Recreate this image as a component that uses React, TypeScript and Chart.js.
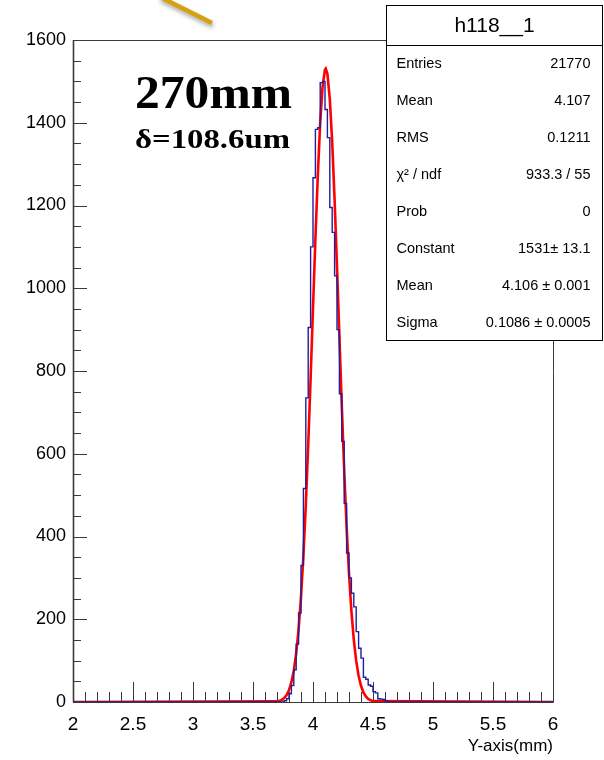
import { useEffect, useRef } from "react";
import { Chart, registerables } from "chart.js";

Chart.register(...registerables);

// Histogram h118__1: bin contents, 0.02 mm bins starting at 3.76 mm
const histLow = 3.76;
const histBinWidth = 0.02;
const histCounts = [
  3, 8, 20, 40, 78, 140, 215, 330, 516, 735, 905, 1100, 1267, 1384, 1388, 1497, 1500,
  1432, 1364, 1195, 1135, 1030, 900, 745, 630, 480, 360, 300, 263, 230, 170, 130, 106,
  60, 55, 41, 38, 25, 22, 8, 7, 6, 3,
];

// Gaussian fit curve, sampled
const fitX = [
  2, 3.7, 3.72, 3.74, 3.76, 3.78, 3.8, 3.82, 3.84, 3.86, 3.88, 3.9, 3.92, 3.94, 3.96, 3.98,
  4.0, 4.02, 4.04, 4.06, 4.08, 4.1, 4.106, 4.12, 4.14, 4.16, 4.18, 4.2, 4.22, 4.24, 4.26,
  4.28, 4.3, 4.32, 4.34, 4.36, 4.38, 4.4, 4.42, 4.44, 4.46, 4.48, 4.5, 6,
];
const fitY = [
  0, 1.4, 2.8, 5.2, 9.6, 16.9, 28.9, 47.8, 76.2, 117.7, 175.6, 253.3, 353.2, 476.0, 620.2,
  781.0, 950.9, 1118.9, 1272.8, 1399.6, 1487.7, 1528.7, 1531, 1518.3, 1457.8, 1353.0,
  1213.9, 1052.7, 882.5, 715.1, 560.2, 424.2, 310.5, 219.7, 150.3, 99.3, 63.5, 39.2, 23.4,
  13.5, 7.5, 4.1, 2.1, 0,
];

// Axis ticks
const xTickValues = [2, 2.5, 3, 3.5, 4, 4.5, 5, 5.5, 6];
const xTickLabels = ["2", "2.5", "3", "3.5", "4", "4.5", "5", "5.5", "6"];
const yTickValues = [0, 200, 400, 600, 800, 1000, 1200, 1400, 1600];
const yTickLabels = ["0", "200", "400", "600", "800", "1000", "1200", "1400", "1600"];

// Statistics box
const statsTitle = "h118__1";
const statsLabels = ["Entries", "Mean", "RMS", "χ² / ndf", "Prob", "Constant", "Mean", "Sigma"];
const statsValues = [
  "21770", "4.107", "0.1211", "933.3 / 55", "0", "1531± 13.1", "4.106 ± 0.001", "0.1086 ± 0.0005",
];

const titleText = "270mm";
const subTitleText = "δ=108.6um";

const SANS = '"Liberation Sans", Arial, Helvetica, sans-serif';
const SERIF = '"Liberation Serif", "Times New Roman", serif';

const rootStylePlugin = {
  id: "rootStyle",
  beforeDatasetsDraw(chart: any) {
    const { ctx, chartArea: a, scales } = chart;
    const xs = scales.x;
    const ys = scales.y;
    ctx.save();
    ctx.strokeStyle = "#3a3a3a";
    ctx.lineWidth = 1;
    ctx.beginPath();
    // frame
    ctx.rect(Math.round(a.left) + 0.5, Math.round(a.top) + 0.5, Math.round(a.right - a.left), Math.round(a.bottom - a.top));
    // x-axis ticks, every 0.1 with longer ones every 0.5
    for (let i = 0; i <= 40; i++) {
      const v = xs.min + i * 0.1;
      const px = Math.round(xs.getPixelForValue(v)) + 0.5;
      const len = i % 5 === 0 ? 20 : 10;
      ctx.moveTo(px, a.bottom);
      ctx.lineTo(px, a.bottom - len);
    }
    // y-axis ticks, every 50 with longer ones every 200
    for (let i = 0; i <= 32; i++) {
      const v = i * 50;
      const py = Math.round(ys.getPixelForValue(v)) + 0.5;
      const len = i % 4 === 0 ? 14 : 8;
      ctx.moveTo(a.left, py);
      ctx.lineTo(a.left + len, py);
    }
    ctx.stroke();
    ctx.lineWidth = 1.6;
    ctx.beginPath();
    ctx.moveTo(Math.round(a.left) + 0.5, a.top);
    ctx.lineTo(Math.round(a.left) + 0.5, a.bottom);
    ctx.stroke();
    ctx.restore();
  },
  afterDraw(chart: any) {
    const { ctx } = chart;
    ctx.save();

    // statistics box
    const bx = 386.5, by = 5.5, bw = 216, bh = 335, head = 40, row = 37;
    ctx.fillStyle = "#ffffff";
    ctx.fillRect(bx, by, bw, bh);
    ctx.strokeStyle = "#000000";
    ctx.lineWidth = 1;
    ctx.strokeRect(bx, by, bw, bh);
    ctx.beginPath();
    ctx.moveTo(bx, by + head);
    ctx.lineTo(bx + bw, by + head);
    ctx.stroke();

    ctx.fillStyle = "#000000";
    ctx.textBaseline = "middle";
    ctx.textAlign = "center";
    ctx.font = `21px ${SANS}`;
    ctx.fillText(statsTitle, bx + bw / 2, by + head / 2 + 1);
    ctx.font = `14.5px ${SANS}`;
    statsLabels.forEach((lab, i) => {
      const cy = by + head + row * i + row / 2;
      ctx.textAlign = "left";
      ctx.fillText(lab, bx + 10, cy);
      ctx.textAlign = "right";
      ctx.fillText(statsValues[i], bx + bw - 12, cy);
    });

    // annotation text
    const drawStretched = (text: string, font: string, x: number, y: number, width: number) => {
      ctx.font = font;
      const w = ctx.measureText(text).width;
      ctx.save();
      ctx.translate(x, y);
      ctx.scale(width / w, 1);
      ctx.textAlign = "left";
      ctx.textBaseline = "alphabetic";
      ctx.fillText(text, 0, 0);
      ctx.restore();
    };
    ctx.fillStyle = "#000000";
    drawStretched(titleText, `bold 47px ${SERIF}`, 135, 108, 157);
    drawStretched(subTitleText, `bold 28px ${SERIF}`, 135, 148, 155);

    // gold pointer stroke at the top
    ctx.save();
    ctx.shadowColor = "rgba(0,0,0,0.35)";
    ctx.shadowBlur = 4;
    ctx.shadowOffsetX = 1;
    ctx.shadowOffsetY = 3;
    ctx.strokeStyle = "#d4a20e";
    ctx.lineWidth = 4.5;
    ctx.lineCap = "butt";
    ctx.beginPath();
    ctx.moveTo(160, -3);
    ctx.lineTo(212, 23);
    ctx.stroke();
    ctx.restore();

    ctx.restore();
  },
};

export default function App() {
  const canvasRef = useRef<HTMLCanvasElement>(null);

  useEffect(() => {
    const histPoints: { x: number; y: number }[] = [{ x: 2, y: 0 }];
    histCounts.forEach((c, i) => histPoints.push({ x: histLow + i * histBinWidth, y: c }));
    histPoints.push({ x: histLow + histCounts.length * histBinWidth, y: 0 });
    histPoints.push({ x: 6, y: 0 });

    const fitPoints = fitX.map((x, i) => ({ x, y: fitY[i] }));

    const chart = new Chart(canvasRef.current!, {
      type: "line",
      data: {
        datasets: [
          {
            label: "h118__1",
            data: histPoints,
            stepped: "before",
            borderColor: "#1e1e9e",
            borderWidth: 1.4,
            pointRadius: 0,
            fill: false,
          },
          {
            label: "gaus",
            data: fitPoints,
            borderColor: "#ff0000",
            borderWidth: 2.6,
            pointRadius: 0,
            tension: 0,
            fill: false,
          },
        ],
      },
      options: {
        animation: false,
        responsive: true,
        maintainAspectRatio: false,
        parsing: true,
        layout: { padding: { top: 40, right: 51, left: 0, bottom: 0 } },
        plugins: {
          legend: { display: false },
          tooltip: { enabled: false },
        },
        scales: {
          x: {
            type: "linear",
            min: 2,
            max: 6,
            grid: { display: false, drawTicks: false },
            border: { display: false },
            afterBuildTicks: (scale: any) => {
              scale.ticks = xTickValues.map((v) => ({ value: v }));
            },
            afterFit: (scale: any) => {
              scale.height = 58;
            },
            ticks: {
              color: "#000",
              padding: 11,
              maxRotation: 0,
              autoSkip: false,
              font: { family: SANS, size: 19 },
              callback: (v: any) => {
                const i = xTickValues.indexOf(Number(v));
                return i >= 0 ? xTickLabels[i] : "";
              },
            },
            title: {
              display: true,
              text: "Y-axis(mm)",
              align: "end",
              color: "#000",
              font: { family: SANS, size: 17 },
              padding: { top: 0, bottom: 3 },
            },
          },
          y: {
            type: "linear",
            min: 0,
            max: 1600,
            grid: { display: false, drawTicks: false },
            border: { display: false },
            afterBuildTicks: (scale: any) => {
              scale.ticks = yTickValues.map((v) => ({ value: v }));
            },
            afterFit: (scale: any) => {
              scale.width = 73;
            },
            ticks: {
              color: "#000",
              padding: 7,
              autoSkip: false,
              font: { family: SANS, size: 18 },
              callback: (v: any) => {
                const i = yTickValues.indexOf(Number(v));
                return i >= 0 ? yTickLabels[i] : "";
              },
            },
          },
        },
      },
      plugins: [rootStylePlugin],
    });

    return () => chart.destroy();
  }, []);

  return (
    <div style={{ position: "absolute", left: 0, top: 0, width: 604, height: 760, background: "#ffffff" }}>
      <canvas ref={canvasRef} />
    </div>
  );
}
